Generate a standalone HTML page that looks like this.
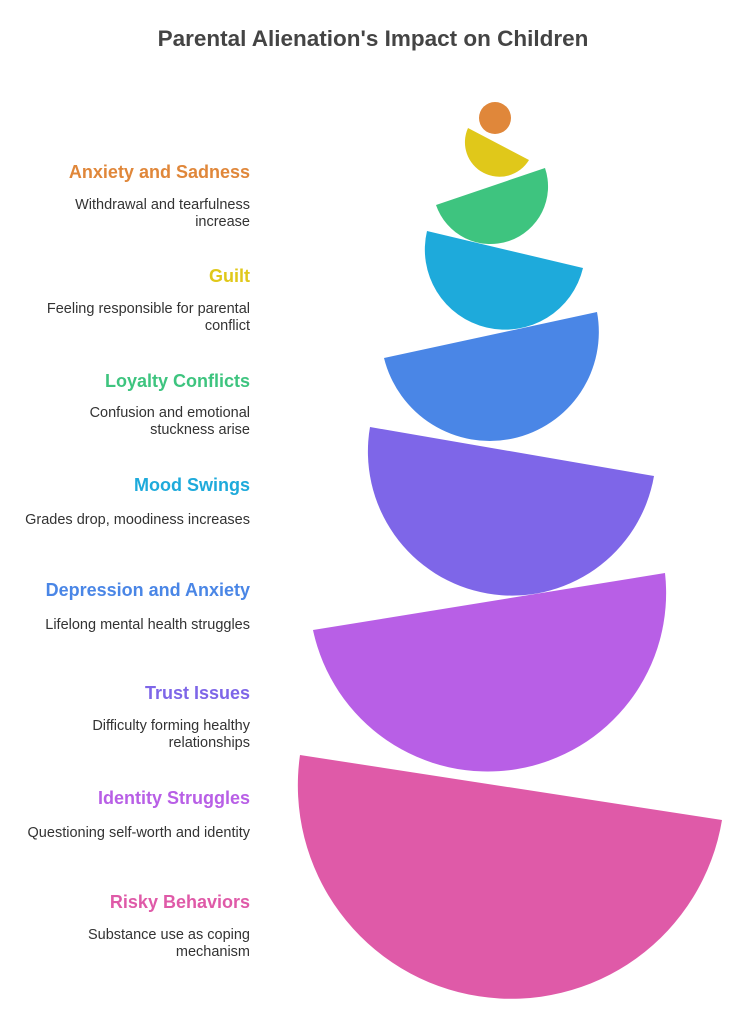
<!DOCTYPE html>
<html><head><meta charset="utf-8"><style>
body{margin:0;background:#fff;}
svg{display:block;}
.t{font-family:"Liberation Sans",sans-serif;font-weight:bold;font-size:18px;text-anchor:end;}
.d{font-family:"Liberation Sans",sans-serif;font-size:14.5px;fill:#333;text-anchor:end;}
</style></head><body>
<svg width="756" height="1024" viewBox="0 0 756 1024" xmlns="http://www.w3.org/2000/svg">
<text x="373" y="46" text-anchor="middle" font-family="Liberation Sans,sans-serif" font-weight="bold" font-size="22.5" fill="#444">Parental Alienation's Impact on Children</text>

<path d="M300 755 A213.5 213.5 0 0 0 722 820 Z" fill="#DF5AA8"/>
<path d="M313 630 A178.5 178.5 0 0 0 665 573 Z" fill="#B85FE6"/>
<path d="M370 427 A144 144 0 0 0 654 476 Z" fill="#7E66E8"/>
<path d="M384 358 A109 109 0 0 0 597 312 Z" fill="#4A86E6"/>
<path d="M427 231 A80 80 0 0 0 583 268 Z" fill="#1EAADB"/>
<path d="M436 205 A57.5 57.5 0 0 0 545 168 Z" fill="#3EC47F"/>
<path d="M468 128 A34.5 34.5 0 0 0 529 160 Z" fill="#E0C81A"/>
<circle cx="495" cy="118" r="16" fill="#E0873A"/>

<text class="t" x="250" y="178" fill="#E0873A">Anxiety and Sadness</text>
<text class="d" x="250" y="209">Withdrawal and tearfulness</text>
<text class="d" x="250" y="226">increase</text>

<text class="t" x="250" y="282" fill="#E0C81A">Guilt</text>
<text class="d" x="250" y="313">Feeling responsible for parental</text>
<text class="d" x="250" y="330">conflict</text>

<text class="t" x="250" y="387" fill="#3EC47F">Loyalty Conflicts</text>
<text class="d" x="250" y="417">Confusion and emotional</text>
<text class="d" x="250" y="434">stuckness arise</text>

<text class="t" x="250" y="491" fill="#1EAADB">Mood Swings</text>
<text class="d" x="250" y="524">Grades drop, moodiness increases</text>

<text class="t" x="250" y="596" fill="#4A86E6">Depression and Anxiety</text>
<text class="d" x="250" y="629">Lifelong mental health struggles</text>

<text class="t" x="250" y="699" fill="#7E66E8">Trust Issues</text>
<text class="d" x="250" y="730">Difficulty forming healthy</text>
<text class="d" x="250" y="747">relationships</text>

<text class="t" x="250" y="804" fill="#B85FE6">Identity Struggles</text>
<text class="d" x="250" y="837">Questioning self-worth and identity</text>

<text class="t" x="250" y="908" fill="#DF5AA8">Risky Behaviors</text>
<text class="d" x="250" y="939">Substance use as coping</text>
<text class="d" x="250" y="956">mechanism</text>
</svg>
</body></html>
